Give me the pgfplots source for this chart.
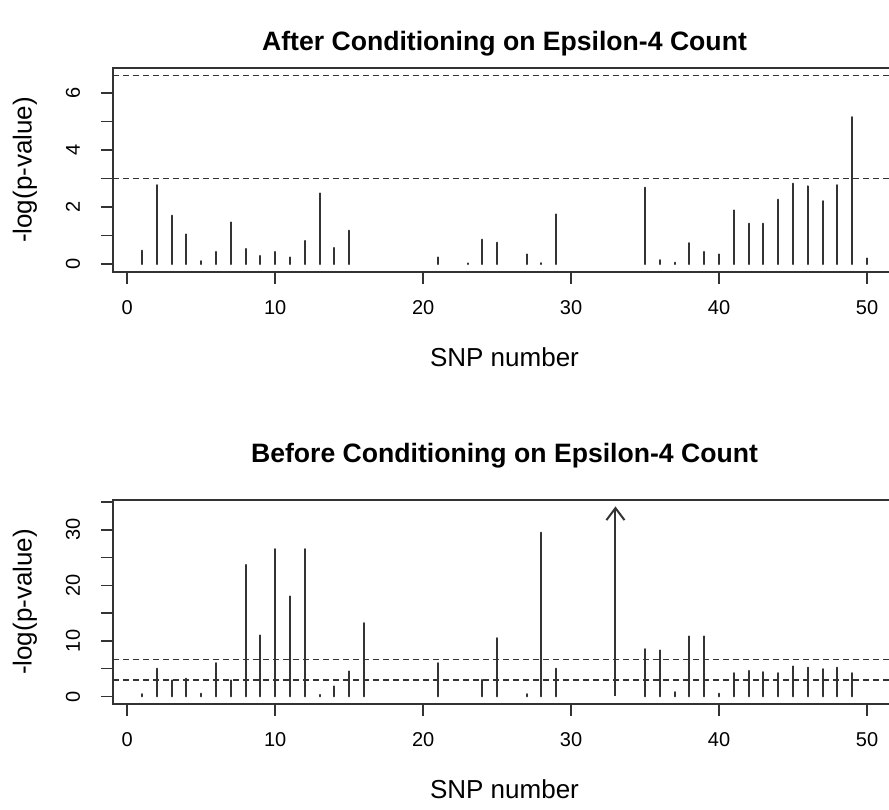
\documentclass[border=0pt]{standalone}
\usepackage{fontspec}
\setmainfont{Liberation Sans}
\usepackage{pgfplots}
\pgfplotsset{compat=1.18}
\usetikzlibrary{arrows.meta}
\definecolor{rline}{HTML}{333333}

% 1 px of the reference = 0.5pt
\pgfplotsset{
  snpaxis/.style={
    scale only axis, width=391.5pt, height=102pt,
    anchor=south west,
    xmin=-0.96, xmax=51.96,
    xtick={0,10,...,50}, xticklabels={0,10,20,30,40,50},
    tick pos=left, tick align=outside, major tick length=6pt,
    axis line style={rline, line width=0.8pt},
    every tick/.style={rline, line width=0.8pt},
    /pgf/number format/assume math mode=true,
    ticklabel style={font=\fontsize{10}{12}\selectfont},
    xticklabel style={anchor=center},
    xticklabel shift=12pt,
    yticklabel style={rotate=90, anchor=center},
    yticklabel shift=14pt,
    xlabel={SNP number}, ylabel={-log(p-value)},
    label style={font=\fontsize{13}{15}\selectfont},
    xlabel style={at={(axis description cs:0.5,-0.4167)}, anchor=center},
    ylabel style={at={(axis description cs:-0.1124,0.5)}, anchor=center},
    title style={font=\fontsize{13.3}{16}\selectfont\bfseries, anchor=center},
    clip=false,
  },
  snpbars/.style={ycomb, rline, line width=1pt, line cap=round},
  snpline/.style={rline, line width=0.8pt, dash pattern=on 3pt off 2pt},
}

\begin{document}
\begin{tikzpicture}
\begin{axis}[snpaxis, at={(56.5pt,-136pt)},
  ymin=-0.28, ymax=6.88,
  ytick={0,1,...,6}, yticklabels={0,,2,,4,,6},
  title={After Conditioning on Epsilon-4 Count},
  title style={at={(axis description cs:0.5,1.059)}},
]
\addplot[snpline] coordinates {(-0.96,3) (51.96,3)};
\addplot[snpline] coordinates {(-0.96,6.62) (51.96,6.62)};
\addplot[snpbars] coordinates {
  (1,0.47) (2,2.77) (3,1.70) (4,1.04) (5,0.10) (6,0.43) (7,1.46) (8,0.53)
  (9,0.29) (10,0.43) (11,0.23) (12,0.81) (13,2.48) (14,0.57) (15,1.17)
  (21,0.23) (23,0.02) (24,0.86) (25,0.75) (27,0.34) (28,0.03) (29,1.74)
  (35,2.68) (36,0.14) (37,0.05) (38,0.73) (39,0.43) (40,0.34) (41,1.88)
  (42,1.42) (43,1.42) (44,2.26) (45,2.82) (46,2.73) (47,2.21) (48,2.77)
  (49,5.16) (50,0.20)
};
\end{axis}

\begin{axis}[snpaxis, at={(56.5pt,-352pt)},
  ymin=-1.36, ymax=35.36,
  ytick={0,5,...,35}, yticklabels={0,,10,,20,,30,},
  title={Before Conditioning on Epsilon-4 Count},
  title style={at={(axis description cs:0.5,1.156)}},
]
\addplot[snpline] coordinates {(-0.96,3) (51.96,3)};
\addplot[snpline] coordinates {(-0.96,6.62) (51.96,6.62)};
\addplot[snpbars] coordinates {
  (1,0.4) (2,5.0) (3,2.9) (4,3.2) (5,0.5) (6,6.0) (7,2.9) (8,23.7)
  (9,11.0) (10,26.5) (11,18.0) (12,26.5) (13,0.3) (14,1.8) (15,4.5)
  (16,13.2) (21,6.0) (24,3.0) (25,10.5) (27,0.4) (28,29.5) (29,5.0)
  (35,8.5) (36,8.3) (37,0.8) (38,10.8) (39,10.8) (40,0.5) (41,4.2)
  (42,4.6) (43,4.4) (44,4.2) (45,5.4) (46,5.2) (47,4.9) (48,5.2) (49,4.2)
};
\addplot[rline, line width=1pt, -{Straight Barb[length=6pt, width=9pt]}]
  coordinates {(33,0) (33,34.2)};
\end{axis}
\pgfresetboundingbox
\useasboundingbox (0,0) rectangle (444.5pt,-404.5pt);
\end{tikzpicture}
\end{document}
